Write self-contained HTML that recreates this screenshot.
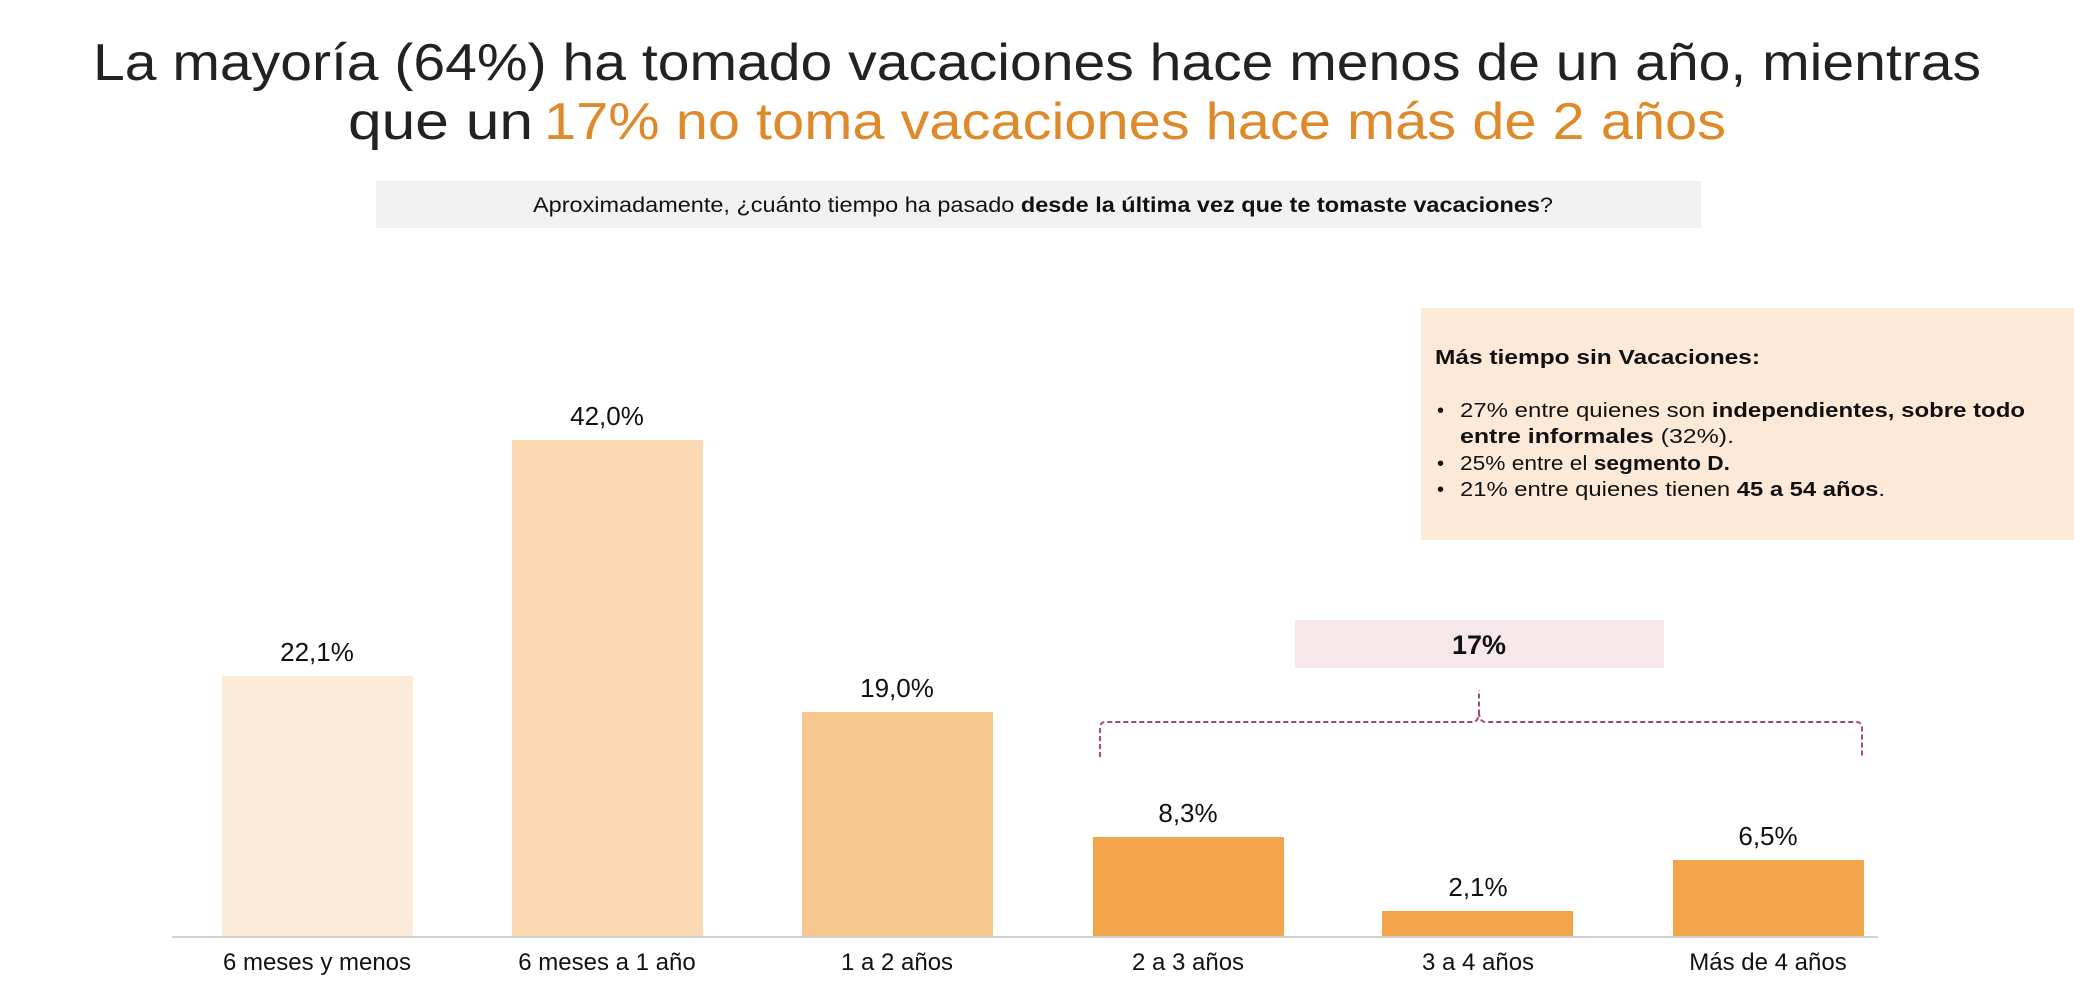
<!DOCTYPE html>
<html><head><meta charset="utf-8"><style>
html,body{margin:0;padding:0;background:#fff;}
svg{display:block;}
</style></head><body>
<svg width="2074" height="1006" viewBox="0 0 2074 1006" xmlns="http://www.w3.org/2000/svg" font-family="'Liberation Sans', sans-serif">
<rect width="2074" height="1006" fill="#fff"/>
<text x="1037" y="80" text-anchor="middle" font-size="52" fill="#222" textLength="1888" lengthAdjust="spacingAndGlyphs">La mayoría (64%) ha tomado vacaciones hace menos de un año, mientras</text>
<text x="348" y="139" font-size="52" fill="#222" textLength="185" lengthAdjust="spacingAndGlyphs">que un</text>
<text x="544" y="139" font-size="52" fill="#df8a2a" textLength="1182" lengthAdjust="spacingAndGlyphs">17% no toma vacaciones hace más de 2 años</text>
<rect x="376" y="181" width="1325" height="47" fill="#f2f2f2"/>
<text x="533" y="212" font-size="21" fill="#111" textLength="1020" lengthAdjust="spacingAndGlyphs">Aproximadamente, ¿cuánto tiempo ha pasado <tspan font-weight="bold">desde la última vez que te tomaste vacaciones</tspan>?</text>
<rect x="1421" y="308" width="653" height="232" fill="#fde9d7"/>
<g font-size="20" fill="#111">
<text x="1435" y="364" font-weight="bold" textLength="325" lengthAdjust="spacingAndGlyphs">Más tiempo sin Vacaciones:</text>
<text x="1437" y="417">•</text><text x="1460" y="417" textLength="565" lengthAdjust="spacingAndGlyphs">27% entre quienes son <tspan font-weight="bold">independientes, sobre todo</tspan></text>
<text x="1460" y="443" textLength="274" lengthAdjust="spacingAndGlyphs"><tspan font-weight="bold">entre informales</tspan> (32%).</text>
<text x="1437" y="470">•</text><text x="1460" y="470" textLength="270" lengthAdjust="spacingAndGlyphs">25% entre el <tspan font-weight="bold">segmento D.</tspan></text>
<text x="1437" y="496">•</text><text x="1460" y="496" textLength="425" lengthAdjust="spacingAndGlyphs">21% entre quienes tienen <tspan font-weight="bold">45 a 54 años</tspan>.</text>
</g>
<rect x="1295" y="620" width="369" height="48" fill="#f6e7eb"/>
<text x="1479" y="654" text-anchor="middle" font-size="27" font-weight="bold" fill="#111">17%</text>
<path d="M1100 757 V728 Q1100 722 1106 722 H1472 Q1479 722 1479 712 V690 M1479 712 Q1479 722 1486 722 H1856 Q1862 722 1862 728 V757" fill="none" stroke="#a94a72" stroke-width="2" stroke-dasharray="5,3"/>
<g>
<rect x="222" y="676" width="191" height="260" fill="#fcebd9"/>
<rect x="512" y="440" width="191" height="496" fill="#fad9b3"/>
<rect x="802" y="712" width="191" height="224" fill="#f6c88f"/>
<rect x="1093" y="837" width="191" height="99" fill="#f2a54a"/>
<rect x="1382" y="911" width="191" height="25" fill="#f2a54a"/>
<rect x="1673" y="860" width="191" height="76" fill="#f2a54a"/>
</g>
<line x1="172" y1="937" x2="1878" y2="937" stroke="#d0d0d0" stroke-width="2"/>
<g font-size="26" fill="#111" text-anchor="middle">
<text x="317" y="661">22,1%</text>
<text x="607" y="425">42,0%</text>
<text x="897" y="697">19,0%</text>
<text x="1188" y="822">8,3%</text>
<text x="1478" y="896">2,1%</text>
<text x="1768" y="845">6,5%</text>
</g>
<g font-size="24" fill="#111" text-anchor="middle">
<text x="317" y="970">6 meses y menos</text>
<text x="607" y="970">6 meses a 1 año</text>
<text x="897" y="970">1 a 2 años</text>
<text x="1188" y="970">2 a 3 años</text>
<text x="1478" y="970">3 a 4 años</text>
<text x="1768" y="970">Más de 4 años</text>
</g>
</svg>
</body></html>
